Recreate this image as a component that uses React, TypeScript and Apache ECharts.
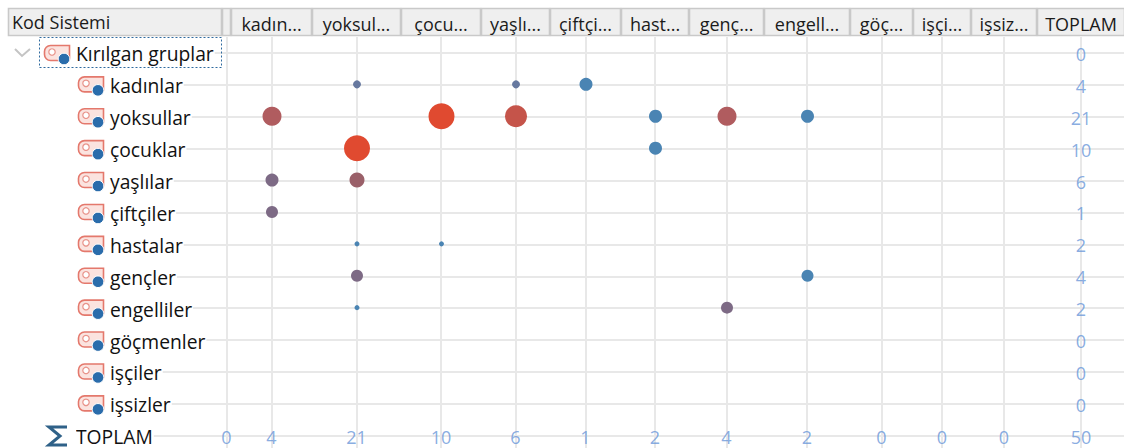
import React, { useEffect, useRef } from "react";
import * as echarts from "echarts";

const rowNames = ["Kırılgan gruplar", "kadınlar", "yoksullar", "çocuklar", "yaşlılar", "çiftçiler", "hastalar", "gençler", "engelliler", "göçmenler", "işçiler", "işsizler", "TOPLAM"];
const columnHeaders = ["", "kadın...", "yoksul...", "çocu...", "yaşlı...", "çiftçi...", "hast...", "genç...", "engell...", "göç...", "işçi...", "işsiz...", "TOPLAM"];
const columnKeys = ["Kırılgan gruplar", "kadınlar", "yoksullar", "çocuklar", "yaşlılar", "çiftçiler", "hastalar", "gençler", "engelliler", "göçmenler", "işçiler", "işsizler"];
// [row, column, frequency]
const cells: [string, string, number][] = [
  ["kadınlar", "yoksullar", 2], ["kadınlar", "yaşlılar", 1], ["kadınlar", "çiftçiler", 1],
  ["yoksullar", "kadınlar", 2], ["yoksullar", "çocuklar", 9], ["yoksullar", "yaşlılar", 5], ["yoksullar", "hastalar", 1], ["yoksullar", "gençler", 3], ["yoksullar", "engelliler", 1],
  ["çocuklar", "yoksullar", 9], ["çocuklar", "hastalar", 1],
  ["yaşlılar", "kadınlar", 1], ["yaşlılar", "yoksullar", 5],
  ["çiftçiler", "kadınlar", 1],
  ["hastalar", "yoksullar", 1], ["hastalar", "çocuklar", 1],
  ["gençler", "yoksullar", 3], ["gençler", "engelliler", 1],
  ["engelliler", "yoksullar", 1], ["engelliler", "gençler", 1],
];
const rowTotals = [0, 4, 21, 10, 6, 1, 2, 4, 2, 0, 0, 0];
const columnTotals = [0, 4, 21, 10, 6, 1, 2, 4, 2, 0, 0, 0, 50];

// Styling, parallel to `cells`
const cellSizes = [8, 8, 13, 19, 26, 22, 13, 19, 13, 26, 13, 13, 15, 12, 5, 5, 12, 12, 5, 12];
const BLUE = "#4a84b3", SLATE = "#66789f", PURPLE = "#7d6a85", ROSE = "#b05c5f", RED = "#e04a30";
const cellColors = [SLATE, SLATE, BLUE, ROSE, RED, "#c5544a", BLUE, ROSE, BLUE, RED, BLUE, PURPLE, "#9a6069", PURPLE, BLUE, BLUE, PURPLE, BLUE, BLUE, PURPLE];

// Layout: edges of the table's header cells
const columnEdges = [222, 231, 312, 401, 481, 550, 621, 689, 764, 850, 913, 971, 1037, 1125];
const columnCentres = columnHeaders.map((_, i) => (columnEdges[i] + columnEdges[i + 1]) / 2);
const FONT = "'Open Sans', 'Noto Sans', sans-serif";
const TOP = 37, ROW = 31.9;
const rowY = (i: number) => TOP + ROW * i + ROW / 2;

function tagIcon(x: number, y: number, z: number) {
  return {
    type: "group", x, y, z,
    children: [
      { type: "rect", shape: { x: 0.5, y: 0.5, width: 25, height: 15, r: [6, 0, 2, 6] }, style: { fill: "#fbe3df", stroke: "#e4786c", lineWidth: 1.6 }, z },
      { type: "circle", shape: { cx: 8, cy: 7, r: 3.2 }, style: { fill: "#fff", stroke: "#e8938a", lineWidth: 1.2 }, z },
      { type: "circle", shape: { cx: 20, cy: 14, r: 5.8 }, style: { fill: "#2a6cab", stroke: "#fff", lineWidth: 1 }, z },
    ],
  };
}

export default function App() {
  const ref = useRef<HTMLDivElement>(null);
  useEffect(() => {
    const chart = echarts.init(ref.current!, undefined, { renderer: "svg" });
    const labelOf = (v: number) => columnHeaders[columnCentres.indexOf(v)] ?? "";
    const headerRect = (x: number, w: number) => ({
      type: "rect", z: 1,
      shape: { x: x + 0.5, y: 8.5, width: w - 1, height: 27 },
      style: { fill: "#efefef", stroke: "#c9c9c9", lineWidth: 1.6 },
    });
    const subRowIcons = rowNames.slice(1, 12).map((_, i) => tagIcon(78, rowY(i + 1) - 8.5, 12));
    chart.setOption({
      animation: false,
      backgroundColor: "#fff",
      grid: { left: 0, right: 0, top: TOP, height: ROW * 13, containLabel: false, outerBoundsMode: "none" },
      xAxis: {
        type: "value", position: "top", min: 0, max: 1124, z: 3,
        axisLine: { show: false }, axisTick: { show: false, customValues: columnCentres },
        axisLabel: {
          customValues: columnCentres, formatter: labelOf, color: "#1b1b1b",
          fontFamily: FONT, fontSize: 18, margin: 4, hideOverlap: false,
        },
        splitLine: { show: true, lineStyle: { color: "#e8e8e8", width: 2 } },
      },
      yAxis: {
        type: "category", inverse: true, data: rowNames, z: 3,
        axisLine: { show: false }, axisTick: { show: false },
        splitLine: { show: true, alignWithLabel: true, interval: 0, lineStyle: { color: "#e8e8e8", width: 2 } },
        axisLabel: {
          inside: true, align: "left", margin: 76, interval: 0, color: "#111", fontFamily: FONT, fontSize: 19.3,
          formatter: (name: string) => (name === "Kırılgan gruplar" || name === "TOPLAM" ? `{t|${name}}` : `{gap|}{t|${name}}`),
          rich: {
            t: { fontFamily: FONT, fontSize: 19.3, lineHeight: 20, color: "#111", backgroundColor: "#fff", padding: [2, 1, 0, 0] },
            gap: { width: 34, height: 10, backgroundColor: "#fff" },
          },
        },
      },
      series: [
        {
          name: "Kod ilişkileri", type: "scatter", z: 5, symbolOffset: [0.5, -0.5],
          data: cells.map(([r, c, v], i) => ({
            value: [columnCentres[columnKeys.indexOf(c)], r, v],
            symbolSize: cellSizes[i],
            itemStyle: { color: cellColors[i], opacity: 1 },
          })),
        },
        {
          name: "Satır toplamı", type: "scatter", symbolSize: 0, z: 6,
          data: rowTotals.map((v, i) => ({ value: [columnCentres[12], rowNames[i], v] })),
          label: { show: true, position: "inside", formatter: (p: any) => String(p.value[2]), color: "#6a97d9", fontFamily: FONT, fontSize: 18, offset: [0, 1] },
        },
        {
          name: "Sütun toplamı", type: "scatter", symbolSize: 0, z: 6,
          data: columnTotals.map((v, i) => ({ value: [columnCentres[i], "TOPLAM", v] })),
          label: { show: true, position: "inside", formatter: (p: any) => String(p.value[2]), color: "#6a97d9", fontFamily: FONT, fontSize: 18, offset: [0, 1] },
        },
      ],
      graphic: [
        { type: "rect", z: 10, shape: { x: 0, y: 37, width: 76, height: 411 }, style: { fill: "#fff" } },
        headerRect(8, 214), ...columnEdges.slice(0, -1).map((e, i) => headerRect(e, columnEdges[i + 1] - e)),
        { type: "text", z: 4, x: 12, y: 22, style: { text: "Kod Sistemi", font: `18px ${FONT}`, fill: "#1b1b1b", textVerticalAlign: "middle" } },
        { type: "rect", z: 11, shape: { x: 39.5, y: 37.5, width: 182, height: 30 }, style: { fill: "none", stroke: "#2f6a9f", lineWidth: 1, lineDash: [2, 2] } },
        { type: "polyline", z: 12, shape: { points: [[15, 49], [22, 56], [30, 49]] }, style: { fill: "none", stroke: "#c4c4c4", lineWidth: 2 } },
        tagIcon(44, 45, 12),
        ...subRowIcons,
        { type: "polyline", z: 12, shape: { points: [[67, 427], [49, 427], [60, 436], [49, 445], [67, 445]] }, style: { fill: "none", stroke: "#2f6188", lineWidth: 3 } },
      ],
    });
    return () => chart.dispose();
  }, []);
  return <div ref={ref} style={{ position: "fixed", left: 0, top: 0, width: 1124, height: 448 }} />;
}
